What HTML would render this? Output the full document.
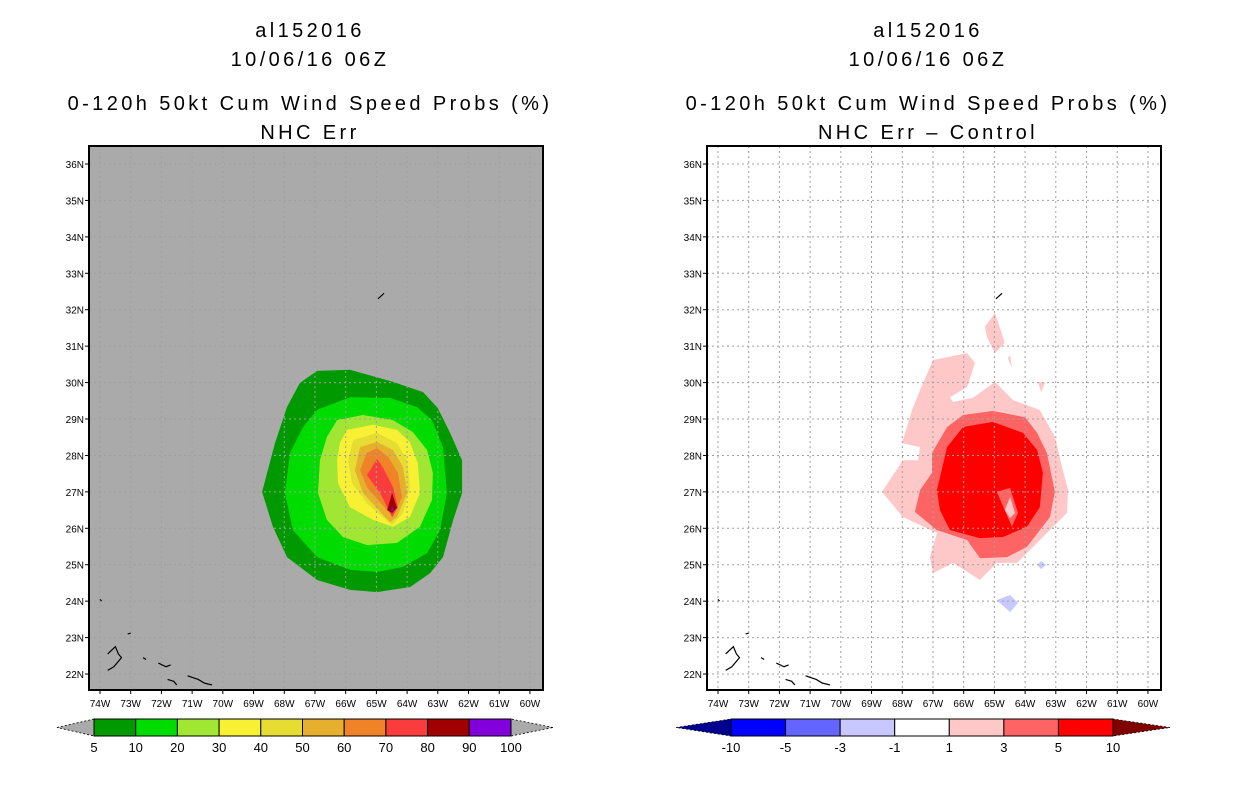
<!DOCTYPE html>
<html><head><meta charset="utf-8"><style>
body{margin:0;background:#fff;}
svg text{font-family:"Liberation Sans",sans-serif;}
.ttl{letter-spacing:3.4px;}
</style></head><body>
<svg id="chart" width="1236" height="800" xmlns="http://www.w3.org/2000/svg">
<text class="ttl" x="310" y="37" text-anchor="middle" font-size="20">al152016</text>
<text class="ttl" x="310" y="66" text-anchor="middle" font-size="20">10/06/16 06Z</text>
<text class="ttl" x="310" y="110" text-anchor="middle" font-size="20">0-120h 50kt Cum Wind Speed Probs (%)</text>
<text class="ttl" x="310" y="139" text-anchor="middle" font-size="20">NHC Err</text>
<text class="ttl" x="928" y="37" text-anchor="middle" font-size="20">al152016</text>
<text class="ttl" x="928" y="66" text-anchor="middle" font-size="20">10/06/16 06Z</text>
<text class="ttl" x="928" y="110" text-anchor="middle" font-size="20">0-120h 50kt Cum Wind Speed Probs (%)</text>
<text class="ttl" x="928" y="139" text-anchor="middle" font-size="20">NHC Err – Control</text>
</svg>
<script>
const lonTicks=[74,73,72,71,70,69,68,67,66,65,64,63,62,61,60];
const latTicks=[36,35,34,33,32,31,30,29,28,27,26,25,24,23,22];
const probLevels=["5","10","20","30","40","50","60","70","80","90","100"];
const probColors=["#009a00","#00dc00","#a0e632","#f8f032","#e6dc32","#e6af2d","#f08228","#fa3c3c","#a00000","#8200dc"];
const diffLevels=["-10","-5","-3","-1","1","3","5","10"];
const diffColors=["#000090","#0000ff","#6464ff","#c8c8ff","#ffffff","#ffc8c8","#ff6464","#ff0000","#800000"];
const prob5=[[67.49,29.99],[66.93,30.32],[65.86,30.35],[64.46,30.02],[63.48,29.74],[63.0,29.3],[62.6,28.62],[62.21,27.87],[62.21,26.97],[62.5,26.23],[62.83,25.21],[63.25,24.77],[63.9,24.39],[64.98,24.25],[65.86,24.31],[66.93,24.58],[67.91,25.21],[68.37,26.04],[68.72,27.0],[68.3,28.34],[67.91,29.33]];
const prob10=[[66.93,29.25],[65.86,29.6],[64.56,29.58],[63.68,29.33],[63.19,28.97],[62.83,28.23],[62.7,26.97],[62.93,25.95],[63.35,25.32],[64.13,24.94],[64.98,24.8],[65.86,24.86],[66.93,25.21],[67.72,25.95],[67.98,26.97],[67.81,28.07],[67.39,28.78]];
const prob20=[[66.28,28.97],[65.44,29.11],[64.46,28.97],[63.81,28.64],[63.35,28.15],[63.16,27.52],[63.19,26.78],[63.58,26.04],[64.33,25.6],[65.31,25.54],[66.09,25.76],[66.61,26.23],[66.9,26.97],[66.84,27.87],[66.61,28.51]];
const prob30=[[65.96,28.7],[65.11,28.84],[64.33,28.7],[63.91,28.37],[63.65,27.79],[63.58,26.97],[63.91,26.31],[64.46,26.04],[65.11,26.23],[65.86,26.58],[66.25,27.24],[66.28,27.87],[66.19,28.34]];
const prob40=[[65.76,28.42],[64.98,28.62],[64.33,28.34],[64.0,27.87],[63.91,27.13],[64.13,26.42],[64.49,26.09],[65.31,26.69],[65.79,27.24],[65.92,27.87]];
const prob50=[[65.53,28.23],[64.98,28.37],[64.46,28.15],[64.13,27.68],[64.0,26.97],[64.33,26.31],[64.56,26.17],[65.44,26.97],[65.7,27.6]];
const prob60=[[65.31,28.07],[64.98,28.2],[64.62,27.96],[64.3,27.52],[64.17,26.86],[64.46,26.31],[65.31,27.13],[65.53,27.6]];
const prob70=[[64.98,27.9],[64.79,27.68],[64.46,27.13],[64.3,26.58],[64.49,26.31],[64.88,26.97],[65.31,27.46]];
const prob80=[[64.49,26.97],[64.33,26.56],[64.49,26.42],[64.65,26.5]];
const prob90=[[64.49,26.62],[64.44,26.48],[64.53,26.48]];
const diffPink=[[67.0,30.62],[65.89,30.81],[65.63,30.54],[65.89,29.88],[66.45,29.6],[66.35,29.47],[65.7,29.58],[64.98,30.02],[64.39,29.52],[63.52,29.25],[63.03,28.51],[62.8,27.68],[62.6,27.05],[62.64,26.42],[63.61,25.6],[64.26,25.05],[64.92,25.05],[65.47,24.58],[66.35,25.05],[67.0,24.77],[67.1,25.21],[66.87,25.87],[67.98,26.31],[68.66,27.0],[67.98,27.87],[67.49,27.87],[67.42,28.23],[68.01,28.34],[67.68,29.25],[67.42,29.8]];
const diffPinkTop=[[65.31,31.53],[64.98,31.91],[64.66,31.09],[64.98,30.81],[65.24,31.25]];
const diffPinkSmall=[[64.56,30.67],[64.49,30.76],[64.43,30.4]];
const diffPinkEast=[[63.58,30.02],[63.35,29.99],[63.48,29.74]];
const diffMid=[[66.54,28.78],[66.02,29.11],[65.05,29.22],[64.0,29.05],[63.61,28.62],[63.29,28.07],[63.03,27.0],[63.19,26.31],[63.94,25.49],[64.59,25.21],[65.47,25.18],[65.89,25.68],[66.87,25.95],[67.59,26.45],[67.42,27.05],[67.03,27.52],[67.03,28.07]];
const diffRed=[[66.87,27.05],[66.54,28.23],[66.02,28.78],[65.05,28.92],[64.07,28.62],[63.61,28.15],[63.42,27.52],[63.52,26.58],[63.94,26.04],[64.72,25.76],[65.47,25.73],[66.45,25.95],[66.77,26.5]];
const diffHole=[[64.92,27.0],[64.49,27.11],[64.23,26.42],[64.43,26.04]];
const diffHolePink=[[64.49,26.86],[64.33,26.42],[64.49,26.28],[64.66,26.5]];
const diffBlue1=[[64.92,24.03],[64.49,24.17],[64.23,23.95],[64.49,23.7]];
const diffBlue2=[[63.61,25.0],[63.48,25.1],[63.32,25.0],[63.48,24.88]];
const bermuda=[[64.95,32.3],[64.75,32.45]];
const bahamas=[[[73.75,22.55],[73.5,22.75],[73.4,22.55],[73.3,22.45],[73.55,22.2],[73.75,22.1]],[[73.0,23.12],[73.1,23.1]],[[72.6,22.45],[72.5,22.4]],[[72.1,22.3],[71.85,22.2],[71.7,22.25]],[[71.8,21.85],[71.6,21.8],[71.5,21.7]],[[71.15,21.95],[70.8,21.85],[70.6,21.75],[70.35,21.7]],[[74.0,24.05],[73.95,24.0]]];

const NS="http://www.w3.org/2000/svg";
const svg=document.getElementById('chart');
function mk(tag,attrs,parent){const e=document.createElementNS(NS,tag);for(const k in attrs)e.setAttribute(k,attrs[k]);(parent||svg).appendChild(e);return e;}
function panel(ox,bg,id){
  const L=ox, T=146, W=454, H=544;
  const x=lon=>ox+11+(74-lon)*30.71;
  const y=lat=>164+(36-lat)*36.43;
  const g=mk('g',{});
  
  
  const cp=mk('clipPath',{id:id+'clip'},g);mk('rect',{x:L,y:T,width:W,height:H},cp);
  const bgr=mk('rect',{x:L,y:T,width:W,height:H,fill:bg},g);
  
  
  const cg=mk('g',{'clip-path':'url(#'+id+'clip)'},g);
  return {g,cg,x,y,L,T,W,H};
}
function poly(p,pts,fill,name){
  const e=mk('polygon',{points:pts.map(q=>p.x(q[0]).toFixed(1)+','+p.y(q[1]).toFixed(1)).join(' '),fill:fill},p.cg);
  
  
}
function decorate(p,id){
  for(const lo of lonTicks){const xx=p.x(lo);
    mk('line',{x1:xx,y1:p.T,x2:xx,y2:p.T+p.H,stroke:'#a0a0a0','stroke-dasharray':'2,3'},p.cg);
    mk('line',{x1:xx,y1:p.T+p.H,x2:xx,y2:p.T+p.H+4,stroke:'#000'},p.g);
    const t=mk('text',{x:xx,y:p.T+p.H+17,'text-anchor':'middle','font-size':'10'},p.g);t.textContent=lo+'W';
    
    }
  for(const la of latTicks){const yy=p.y(la);
    mk('line',{x1:p.L,y1:yy,x2:p.L+p.W,y2:yy,stroke:'#a0a0a0','stroke-dasharray':'2,3'},p.cg);
    mk('line',{x1:p.L-4,y1:yy,x2:p.L,y2:yy,stroke:'#000'},p.g);
    const t=mk('text',{x:p.L-5,y:yy+4,'text-anchor':'end','font-size':'10'},p.g);t.textContent=la+'N';
    
    }
  const line=pts=>mk('polyline',{points:pts.map(q=>p.x(q[0])+','+p.y(q[1])).join(' '),fill:'none',stroke:'#000','stroke-width':'1.2'},p.cg);
  line(bermuda);
  for(const b of bahamas)line(b);
  const fr=mk('rect',{x:p.L,y:p.T,width:p.W,height:p.H,fill:'none',stroke:'#000','stroke-width':'2'},p.g);
  
  
}
const a=panel(89,'#aaaaaa','left');
[prob5,prob10,prob20,prob30,prob40,prob50,prob60,prob70,prob80,prob90].forEach((c,i)=>poly(a,c,probColors[i],'contour-'+probLevels[i]));
decorate(a,'left');
const b=panel(707,'#ffffff','right');
poly(b,diffPink,diffColors[5],'diff-1-3');
poly(b,diffPinkTop,diffColors[5],'diff-1-3-north');
poly(b,diffPinkSmall,diffColors[5],'diff-1-3-small');
poly(b,diffPinkEast,diffColors[5],'diff-1-3-east');
poly(b,diffMid,diffColors[6],'diff-3-5');
poly(b,diffRed,diffColors[7],'diff-5-10');
poly(b,diffHole,diffColors[6],'diff-3-5-inner');
poly(b,diffHolePink,diffColors[5],'diff-1-3-inner');
poly(b,diffBlue1,diffColors[3],'diff-neg-1-3');
poly(b,diffBlue2,diffColors[3],'diff-neg-1-3-small');
decorate(b,'right');

function legend(x0,x1,xt0,xt1,cols,labels,name,triL,triR){
  const g=mk('g',{});
  
  
  const y0=719,y1=736,ym=727.5,n=cols.length;
  const w=(x1-x0)/n;
  mk('polygon',{points:`${xt0},${ym} ${x0},${y0} ${x0},${y1}`,fill:triL,stroke:'#000','stroke-dasharray':'2,2','stroke-width':'0.8'},g);
  mk('polygon',{points:`${xt1},${ym} ${x1},${y0} ${x1},${y1}`,fill:triR,stroke:'#000','stroke-dasharray':'2,2','stroke-width':'0.8'},g);
  cols.forEach((c,i)=>{const r=mk('rect',{x:x0+i*w,y:y0,width:w,height:y1-y0,fill:c,stroke:'#000'},g);
    
    });
  labels.forEach((l,i)=>{const t=mk('text',{x:x0+i*w,y:752,'text-anchor':'middle','font-size':'13'},g);t.textContent=l;
    
    });
}
legend(94,511,57,553,probColors,probLevels,'probability-legend','#aaaaaa','#aaaaaa');
legend(731,1113,676,1170,diffColors.slice(1,8),diffLevels,'difference-legend',diffColors[0],diffColors[8]);
</script>
</body></html>
